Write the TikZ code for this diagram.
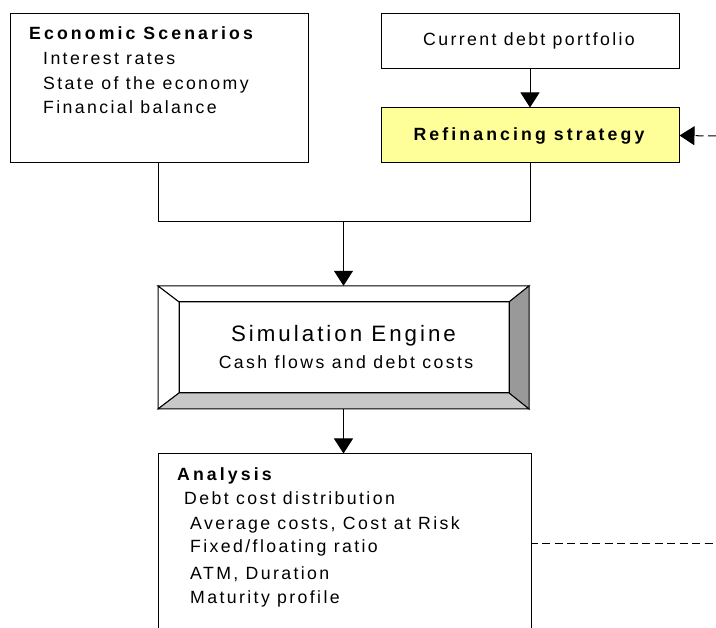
\documentclass[tikz,border=0pt]{standalone}
\usepackage{fontspec}
\setmainfont{Liberation Sans}[LetterSpace=13.5]
\newfontfamily\boldwide{Liberation Sans}[LetterSpace=17.5]
\usetikzlibrary{arrows.meta}
\definecolor{refyellow}{HTML}{FFFF99}
\definecolor{bevelright}{HTML}{999999}
\definecolor{bevelbottom}{HTML}{C8C8C8}
\begin{document}
\begin{tikzpicture}[x=1pt,y=-1pt,
  box/.style={draw=black,line width=1pt,rectangle,inner sep=0pt},
  txt/.style={anchor=base west,inner sep=0pt,font=\fontsize{17.7}{20}\selectfont},
  ctxt/.style={anchor=base,inner sep=0pt,font=\fontsize{17.7}{20}\selectfont},
  btxt/.style={font=\fontsize{17.7}{20}\boldwide\bfseries},
  conn/.style={line width=1pt,draw=black},
  arr/.style={conn,-{Triangle[width=19pt,length=15pt]}},
  dashline/.style={line width=1pt,dash pattern=on 8pt off 4.5pt,dash phase=2pt}]
\path[use as bounding box] (0,0) rectangle (716,628);
\clip (0,0) rectangle (716,628);

% Economic scenarios
\node[box,minimum width=298pt,minimum height=149pt] (econ) at (159,88.5) {};
\node[txt,btxt] (econT) at (29,40) {Economic Scenarios};
\node[txt] (econ1) at (43,65) {Interest rates};
\node[txt] (econ2) at (43,90) {State of the economy};
\node[txt] (econ3) at (43,114) {Financial balance};

% Current debt portfolio
\node[box,minimum width=298pt,minimum height=55pt] (curr) at (530,41.5) {};
\node[ctxt] (currT) at (529,46) {Current debt portfolio};

% Refinancing strategy
\node[box,fill=refyellow,minimum width=298pt,minimum height=55pt] (refin) at (530,135.5) {};
\node[ctxt,btxt] (refinT) at (529,141) {Refinancing strategy};

% Simulation engine (bevelled)
\coordinate (so1) at (158,286); \coordinate (so2) at (529,286);
\coordinate (so3) at (529,409); \coordinate (so4) at (158,409);
\coordinate (si1) at (179,302); \coordinate (si2) at (509,302);
\coordinate (si3) at (509,393); \coordinate (si4) at (179,393);
\filldraw[fill=white,line width=1pt] (so1) -- (so2) -- (si2) -- (si1) -- cycle;
\filldraw[fill=white,line width=1pt] (so1) -- (si1) -- (si4) -- (so4) -- cycle;
\filldraw[fill=bevelright,line width=1pt] (so2) -- (so3) -- (si3) -- (si2) -- cycle;
\filldraw[fill=bevelbottom,line width=1pt] (so4) -- (si4) -- (si3) -- (so3) -- cycle;
\draw[line width=1pt] (si1) rectangle (si3);
\node[minimum width=371pt,minimum height=123pt,inner sep=0pt] (sim) at (343.5,347.5) {};
\node[ctxt,font=\fontsize{22.3}{26}\selectfont] (simT) at (343.5,342) {Simulation Engine};
\node[ctxt] (simS) at (346,369) {Cash flows and debt costs};

% Analysis
\node[box,minimum width=373pt,minimum height=200pt] (anal) at (344.5,554) {};
\node[txt,btxt] (analT) at (177,481) {Analysis};
\node[txt] (anal1) at (184,505) {Debt cost distribution};
\node[txt] (anal2) at (190,530) {Average costs, Cost at Risk};
\node[txt] (anal3) at (190,553) {Fixed/floating ratio};
\node[txt] (anal4) at (190,580) {ATM, Duration};
\node[txt] (anal5) at (190,604) {Maturity profile};

% Connectors
\coordinate (jl) at (158,222);
\coordinate (jr) at (530,222);
\coordinate (jm) at (343.5,222);
\coordinate (fbtop) at (716,136);
\coordinate (fbbot) at (716,544);
\draw[conn] (jl |- econ.south) -- (jl) -- (jr) -- (refin.south);
\draw[arr] (jm) -- (sim.north);
\draw[arr] (curr.south) -- (refin.north);
\draw[arr] (sim.south) -- (sim.south |- anal.north);
\draw[line width=1pt,-{Triangle[width=19pt,length=15pt]},dash pattern=on 8pt off 4.5pt] (fbtop) -- (refin.east);
\draw[dashline] (anal.east |- fbbot) -- (fbbot);
\end{tikzpicture}
\end{document}
